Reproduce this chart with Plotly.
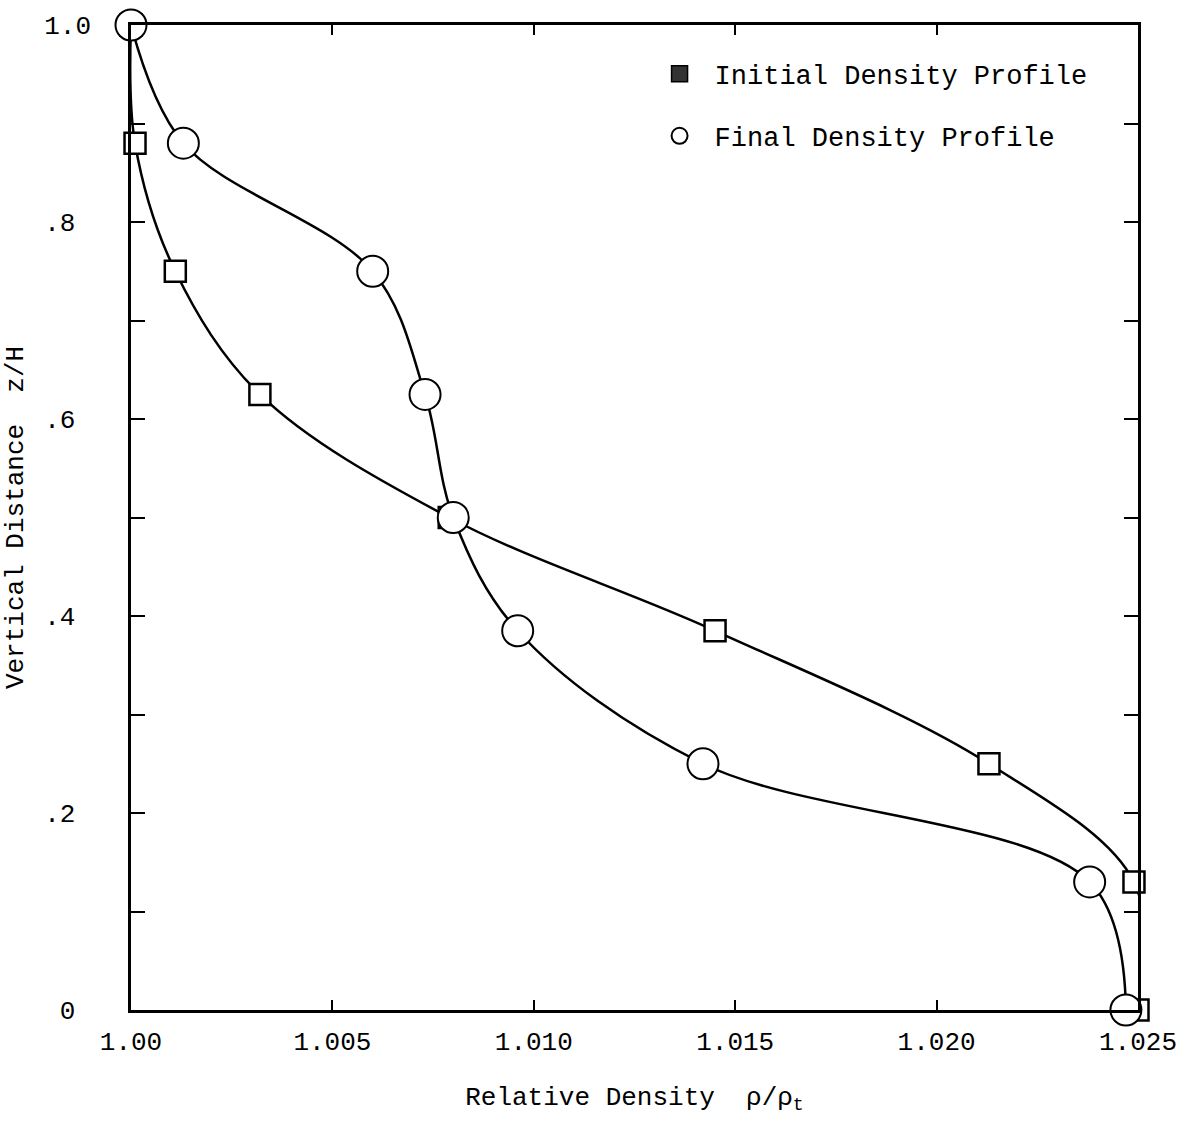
import plotly.graph_objects as go

# Non-dimensional height levels z/H
z_levels = [1.0, 0.88, 0.75, 0.625, 0.5, 0.385, 0.25, 0.13, 0.0]

# Relative density rho/rho_t at each level
initial_density = [1.0000, 1.0001, 1.0011, 1.0032, 1.0079, 1.0145, 1.0213, 1.0249, 1.0250]
final_density = [1.0000, 1.0013, 1.0060, 1.0073, 1.0080, 1.0096, 1.0142, 1.0238, 1.0247]

x_tick_vals = [1.000, 1.005, 1.010, 1.015, 1.020, 1.025]
x_tick_text = ["1.00", "1.005", "1.010", "1.015", "1.020", "1.025"]
y_tick_vals = [0.0, 0.2, 0.4, 0.6, 0.8, 1.0]
y_tick_text = ["\u00a00\u00a0", ".2\u00a0", ".4\u00a0", ".6\u00a0", ".8\u00a0", "1.0"]

FONT = "Liberation Mono, Courier New, monospace"

fig = go.Figure()

# Smooth profile curves through the measured points
fig.add_trace(go.Scatter(
    x=initial_density, y=z_levels, mode="lines+markers",
    line=dict(color="black", width=2.5, shape="spline", smoothing=1.0),
    marker=dict(symbol="square", size=21, color="white", line=dict(color="black", width=2.5)),
    cliponaxis=False, showlegend=False,
))
fig.add_trace(go.Scatter(
    x=final_density, y=z_levels, mode="lines+markers",
    line=dict(color="black", width=2.5, shape="spline", smoothing=1.0),
    marker=dict(symbol="circle", size=31, color="white", line=dict(color="black", width=2)),
    cliponaxis=False, showlegend=False,
))

# Legend entries
fig.add_trace(go.Scatter(
    x=[None], y=[None], mode="markers", name="Initial Density Profile",
    legendgroup="a",
    marker=dict(symbol="square", size=16, color="#333333", line=dict(color="black", width=1.5)),
))
fig.add_trace(go.Scatter(
    x=[None], y=[None], mode="markers", name="Final Density Profile",
    legendgroup="b",
    marker=dict(symbol="circle", size=16, color="white", line=dict(color="black", width=2)),
))

axis_common = dict(
    showline=True, linecolor="black", linewidth=2.5, mirror="ticks",
    ticks="inside", tickcolor="black", tickwidth=2,
    showgrid=False, zeroline=False,
    tickfont=dict(family=FONT, size=26, color="black"),
)

fig.update_xaxes(
    range=[1.0, 1.025], tickvals=x_tick_vals, ticktext=x_tick_text,
    ticklen=10, ticklabelstandoff=6,
    title=dict(text="Relative Density  \u03c1/\u03c1<sub>t</sub>\u00a0\u00a0\u00a0\u00a0",
               font=dict(family=FONT, size=26, color="black"), standoff=30),
    **axis_common,
)
fig.update_yaxes(
    range=[0.0, 1.0], tickvals=y_tick_vals, ticktext=y_tick_text,
    ticklen=14, ticklabelstandoff=32,
    minor=dict(dtick=0.1, ticks="inside", ticklen=14, tickwidth=2, tickcolor="black", showgrid=False),
    title=dict(text="Vertical Distance\u00a0\u00a0z/H",
               font=dict(family=FONT, size=26, color="black"), standoff=14),
    **axis_common,
)

fig.update_layout(
    width=1189, height=1127,
    margin=dict(l=130, r=49, t=22, b=117),
    plot_bgcolor="white", paper_bgcolor="white",
    font=dict(family=FONT, color="black"),
    legend=dict(
        x=0.51, y=0.975, xanchor="left", yanchor="top",
        font=dict(family=FONT, size=27, color="black"),
        bgcolor="rgba(0,0,0,0)", traceorder="grouped", tracegroupgap=24,
        itemwidth=60,
    ),
)

fig.write_html("out.html")
